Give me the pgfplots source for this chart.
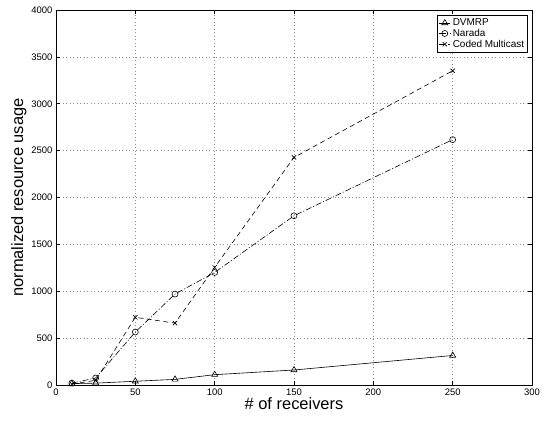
\documentclass[border=0pt]{standalone}
\usepackage{pgfplots}
\pgfplotsset{compat=1.18}
\usepackage{fontspec}
\setmainfont{Liberation Sans}

\begin{document}
\begin{tikzpicture}
\begin{axis}[
  scale only axis,
  width=476bp, height=375bp,
  xmin=0, xmax=300, ymin=0, ymax=4000,
  xtick={0,50,...,300},
  ytick={0,500,...,4000},
  tick align=inside,
  major tick length=4bp,
  axis line style={line width=0.9pt},
  every tick/.style={black, line width=0.5pt},
  grid=major,
  grid style={black!45, line width=0.5pt, dash pattern=on 0.5pt off 3pt},
  tick label style={font=\fontsize{9.5}{11}\selectfont},
  /pgf/number format/assume math mode=true,
  /pgf/number format/set thousands separator={},
  scaled ticks=false,
  xlabel={\# of receivers},
  ylabel={normalized resource usage},
  label style={font=\fontsize{16.5}{18}\selectfont},
  xlabel style={yshift=4bp},
  ylabel style={yshift=-2bp},
  legend cell align=left,
  legend style={at={(1,1)}, anchor=north east, xshift=-4bp, yshift=-5bp,
    font=\fontsize{10}{11}\selectfont, draw=black, line width=0.6pt,
    inner sep=1.5pt, row sep=-2pt},
  legend image code/.code={
    \draw[mark repeat=2, mark phase=2, #1] plot coordinates {(0cm,0cm) (0.2cm,0cm) (0.4cm,0cm)};},
  every axis plot/.append style={line width=0.6pt, black},
]
\addplot[mark=triangle, mark size=3.5bp, mark options={solid}] coordinates {
  (10,15) (25,20) (50,40) (75,60) (100,110) (150,160) (250,315)};
\addlegendentry{DVMRP}
\addplot[dash pattern=on 6pt off 2pt on 1pt off 2pt, mark=o, mark size=3bp, mark options={solid}] coordinates {
  (10,20) (25,75) (50,565) (75,970) (100,1200) (150,1805) (250,2617)};
\addlegendentry{Narada}
\addplot[dash pattern=on 5pt off 3.5pt, mark=x, mark size=3bp, mark options={solid}] coordinates {
  (10,10) (25,50) (50,722) (75,660) (100,1255) (150,2428) (250,3352)};
\addlegendentry{Coded Multicast}
\end{axis}
\pgfresetboundingbox
\path ([shift={(-56bp,-39bp)}]current axis.south west) rectangle ([shift={(13bp,10bp)}]current axis.north east);
\end{tikzpicture}
\end{document}
